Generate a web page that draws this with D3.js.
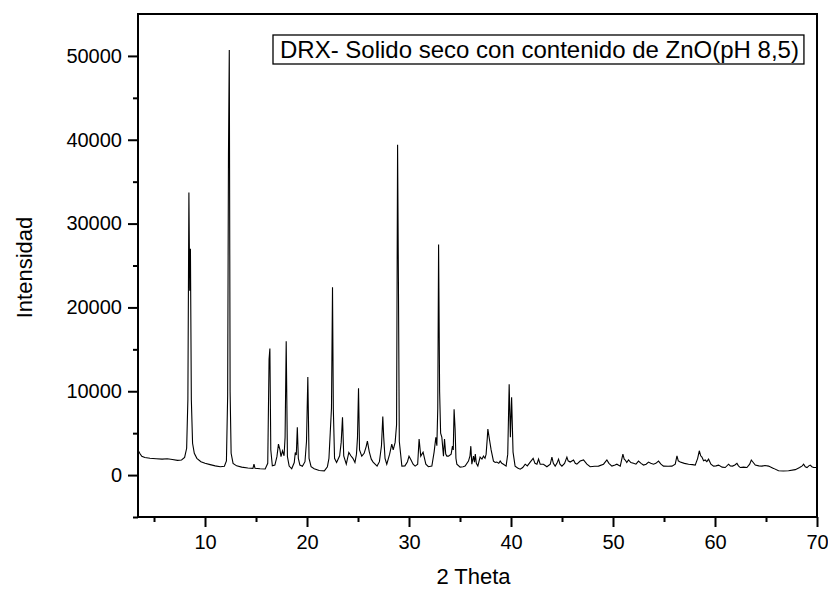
<!DOCTYPE html>
<html>
<head>
<meta charset="utf-8">
<script src="https://cdn.jsdelivr.net/npm/d3@7"></script>
<style>
  body { margin: 0; background: #fff; }
  svg text { font-family: "Liberation Sans", Arial, sans-serif; fill: #000; }
</style>
</head>
<body>
<div id="chart"></div>
<script>
// DRX pattern (2 theta, counts)
const twoTheta = [
  3.43, 3.6, 3.8, 4.1, 4.6, 5.2, 5.8, 6.3, 6.8, 7.3, 7.7, 8.0, 8.2, 8.32, 8.42, 8.5, 8.57, 8.66, 8.78, 8.95,
  9.2, 9.6, 10.0, 10.5, 11.0, 11.5, 11.9, 12.1, 12.22, 12.3, 12.38, 12.46, 12.56, 12.75, 13.1, 13.6, 14.2, 14.7, 14.8, 14.9,
  15.4, 15.9, 16.15, 16.28, 16.36, 16.45, 16.6, 16.85, 17.05, 17.2, 17.35, 17.45, 17.6, 17.75, 17.85, 17.96, 18.08, 18.25, 18.5, 18.75,
  18.85, 18.95, 19.05, 19.15, 19.3, 19.55, 19.8, 19.95, 20.08, 20.2, 20.4, 20.7, 21.2, 21.7, 22.0, 22.15, 22.28, 22.4, 22.5, 22.58,
  22.7, 22.9, 23.2, 23.35, 23.48, 23.6, 23.85, 24.1, 24.3, 24.5, 24.7, 24.85, 24.95, 25.05, 25.15, 25.37, 25.6, 25.8, 25.92, 26.1,
  26.3, 26.48, 26.87, 27.1, 27.3, 27.43, 27.52, 27.65, 27.82, 28.1, 28.31, 28.45, 28.64, 28.78, 28.88, 28.96, 29.05, 29.3, 29.6, 29.85,
  30.0, 30.2, 30.4, 30.6, 30.85, 30.99, 31.15, 31.38, 31.65, 31.9, 32.24, 32.46, 32.63, 32.73, 32.82, 32.9, 33.0, 33.1, 33.22, 33.38,
  33.48, 33.6, 33.71, 33.87, 34.13, 34.26, 34.34, 34.42, 34.52, 34.6, 34.69, 35.01, 35.3, 35.5, 35.83, 35.98, 36.06, 36.16, 36.32, 36.42,
  36.5, 36.6, 36.75, 36.97, 37.15, 37.3, 37.45, 37.56, 37.68, 37.73, 37.88, 38.05, 38.28, 38.45, 38.61, 38.8, 38.94, 39.1, 39.26, 39.52,
  39.68, 39.82, 39.94, 40.06, 40.2, 40.4, 40.65, 40.9, 41.15, 41.39, 41.6, 41.88, 42.17, 42.35, 42.54, 42.7, 42.86, 43.18, 43.52, 43.85,
  44.01, 44.15, 44.33, 44.5, 44.66, 44.8, 44.99, 45.25, 45.48, 45.6, 45.8, 46.13, 46.3, 46.46, 46.78, 47.11, 47.44, 47.76, 48.2, 48.58,
  49.07, 49.4, 49.6, 49.89, 50.2, 50.38, 50.71, 50.97, 51.1, 51.2, 51.35, 51.52, 51.75, 52.01, 52.25, 52.5, 52.75, 52.99, 53.25, 53.48,
  53.7, 53.97, 54.2, 54.46, 54.7, 54.95, 55.4, 55.78, 56.1, 56.27, 56.4, 56.59, 57.0, 57.41, 57.8, 58.06, 58.3, 58.46, 58.6, 58.72,
  58.88, 59.04, 59.2, 59.37, 59.6, 59.86, 60.1, 60.35, 60.7, 61.0, 61.33, 61.5, 61.72, 61.95, 62.15, 62.3, 62.48, 62.8, 63.13, 63.4,
  63.56, 63.75, 63.95, 64.3, 64.61, 64.9, 65.25, 65.74, 66.23, 66.7, 67.21, 67.87, 68.3, 68.55, 68.69, 68.85, 69.02, 69.2, 69.34, 69.5,
  69.67, 70.0
];
const intensity = [
  3000, 2600, 2250, 2100, 2000, 1950, 1900, 1950, 1850, 1750, 1800, 2100, 3200, 9000, 33700, 22000, 27000, 9000, 3800, 2600,
  2000, 1600, 1400, 1250, 1100, 1000, 1050, 1700, 9500, 38300, 50700, 10000, 2600, 1400, 1100, 950, 850, 800, 1300, 820,
  760, 720, 1400, 13800, 15100, 3000, 1100, 1200, 2200, 3700, 3000, 2200, 2900, 2300, 4500, 15950, 2200, 1070, 750, 1500,
  2700, 2400, 5700, 2000, 1200, 1050, 1600, 4000, 11700, 2000, 1000, 750, 550, 500, 1000, 2000, 5100, 8000, 22400, 7900,
  2000, 1500, 2300, 3900, 6900, 2300, 1300, 2700, 2300, 2000, 1500, 2500, 4500, 10350, 3000, 2260, 2600, 3400, 4050, 2800,
  1900, 1550, 1070, 1600, 3500, 7000, 4500, 2000, 1300, 2500, 3700, 3000, 3900, 6000, 39400, 23500, 4000, 1070, 1100, 1600,
  2260, 1800, 1300, 1070, 1300, 4300, 2260, 2740, 1300, 1000, 1070, 2740, 4500, 3500, 8000, 27500, 10000, 5000, 4500, 2260,
  4300, 2500, 2260, 2260, 2500, 3450, 3000, 7860, 5500, 2000, 1300, 950, 1000, 1070, 1670, 2300, 3450, 1300, 2260, 1550,
  2500, 1400, 1070, 2140, 1900, 2260, 2000, 2500, 4500, 5480, 4300, 3000, 1670, 1500, 1550, 1400, 1670, 1400, 1300, 1070,
  2500, 10830, 4500, 9290, 2740, 1070, 850, 710, 900, 1300, 1100, 1550, 2000, 1400, 1300, 1900, 1300, 1300, 1000, 1300,
  2140, 1400, 1070, 1400, 1900, 1300, 1070, 1400, 2140, 1700, 1550, 1800, 1400, 1300, 1670, 1800, 1300, 1000, 1050, 1070,
  1300, 1800, 1400, 1070, 1200, 1300, 1070, 2500, 1900, 1800, 1500, 1800, 1500, 1400, 1300, 1670, 1400, 1200, 1300, 1550,
  1400, 1300, 1400, 1670, 1300, 1070, 1050, 1070, 1300, 2300, 1700, 1550, 1400, 1300, 1250, 1190, 2000, 2900, 2300, 2140,
  1700, 1800, 1600, 1900, 1300, 1070, 1100, 1190, 950, 900, 1300, 1100, 1070, 1200, 1400, 1100, 900, 950, 900, 1300,
  1800, 1500, 1190, 1100, 1070, 1150, 1070, 800, 510, 480, 510, 650, 900, 1100, 1300, 1000, 900, 1100, 1190, 1000,
  900, 900
];

const xMajor = [10, 20, 30, 40, 50, 60, 70];
const xMinor = [5, 15, 25, 35, 45, 55, 65];
const yMajor = [0, 10000, 20000, 30000, 40000, 50000];
const yMinor = [-5000, 5000, 15000, 25000, 35000, 45000];

const legendText = "DRX- Solido seco con contenido de ZnO(pH 8,5)";

const W = 828, H = 590;
const margin = {top: 14, right: 11, bottom: 73, left: 138};
const w = W - margin.left - margin.right,
      h = H - margin.top - margin.bottom;

const svg = d3.select("#chart").append("svg")
  .attr("width", W)
  .attr("height", H);

const g = svg.append("g")
  .attr("transform", "translate(" + margin.left + "," + margin.top + ")");

const x = d3.scaleLinear().domain([3.43, 70]).range([0, w]);
const y = d3.scaleLinear().domain([-5000, 55000]).range([h, 0]);

const data = twoTheta.map(function(t, i){ return {t: t, v: intensity[i]}; });

// pattern
const line = d3.line()
  .x(function(d){ return x(d.t); })
  .y(function(d){ return y(d.v); });

g.append("path")
  .datum(data)
  .attr("d", line)
  .attr("fill", "none")
  .attr("stroke", "#000")
  .attr("stroke-width", 1.1)
  .attr("stroke-linejoin", "miter");

// axes
function styleAxis(sel){
  sel.select(".domain").remove();
  sel.selectAll(".tick line").attr("stroke", "#000").attr("stroke-width", 2);
  sel.selectAll(".tick text").style("font-size", "20px").attr("fill", "#000");
}

g.append("g")
  .attr("transform", "translate(0," + h + ")")
  .call(d3.axisBottom(x).tickValues(xMinor).tickSize(5).tickFormat(""))
  .call(styleAxis);

g.append("g")
  .attr("transform", "translate(0," + h + ")")
  .call(d3.axisBottom(x).tickValues(xMajor).tickSize(10).tickPadding(8).tickFormat(d3.format("d")))
  .call(styleAxis);

g.append("g")
  .call(d3.axisLeft(y).tickValues(yMinor).tickSize(5).tickFormat(""))
  .call(styleAxis);

g.append("g")
  .call(d3.axisLeft(y).tickValues(yMajor).tickSize(10).tickPadding(6).tickFormat(d3.format("d")))
  .call(styleAxis);

// frame
g.append("rect")
  .attr("x", 0).attr("y", 0)
  .attr("width", w).attr("height", h)
  .attr("fill", "none")
  .attr("stroke", "#000")
  .attr("stroke-width", 2);

// axis titles
svg.append("text")
  .attr("x", margin.left + w / 2 - 4)
  .attr("y", 584)
  .attr("text-anchor", "middle")
  .style("font-size", "22px")
  .text("2 Theta");

svg.append("text")
  .attr("transform", "translate(32," + (margin.top + h / 2 + 2) + ") rotate(-90)")
  .attr("text-anchor", "middle")
  .style("font-size", "22px")
  .text("Intensidad");

// legend box
const leg = svg.append("g").attr("transform", "translate(273,35)");
const legLabel = leg.append("text")
  .attr("x", 7)
  .attr("y", 23)
  .style("font-size", "24px")
  .text(legendText);
const bb = legLabel.node().getBBox();
leg.insert("rect", "text")
  .attr("x", 0).attr("y", 0)
  .attr("width", bb.width + 12)
  .attr("height", 29)
  .attr("fill", "#fff")
  .attr("stroke", "#000")
  .attr("stroke-width", 1.3);
</script>
</body>
</html>
